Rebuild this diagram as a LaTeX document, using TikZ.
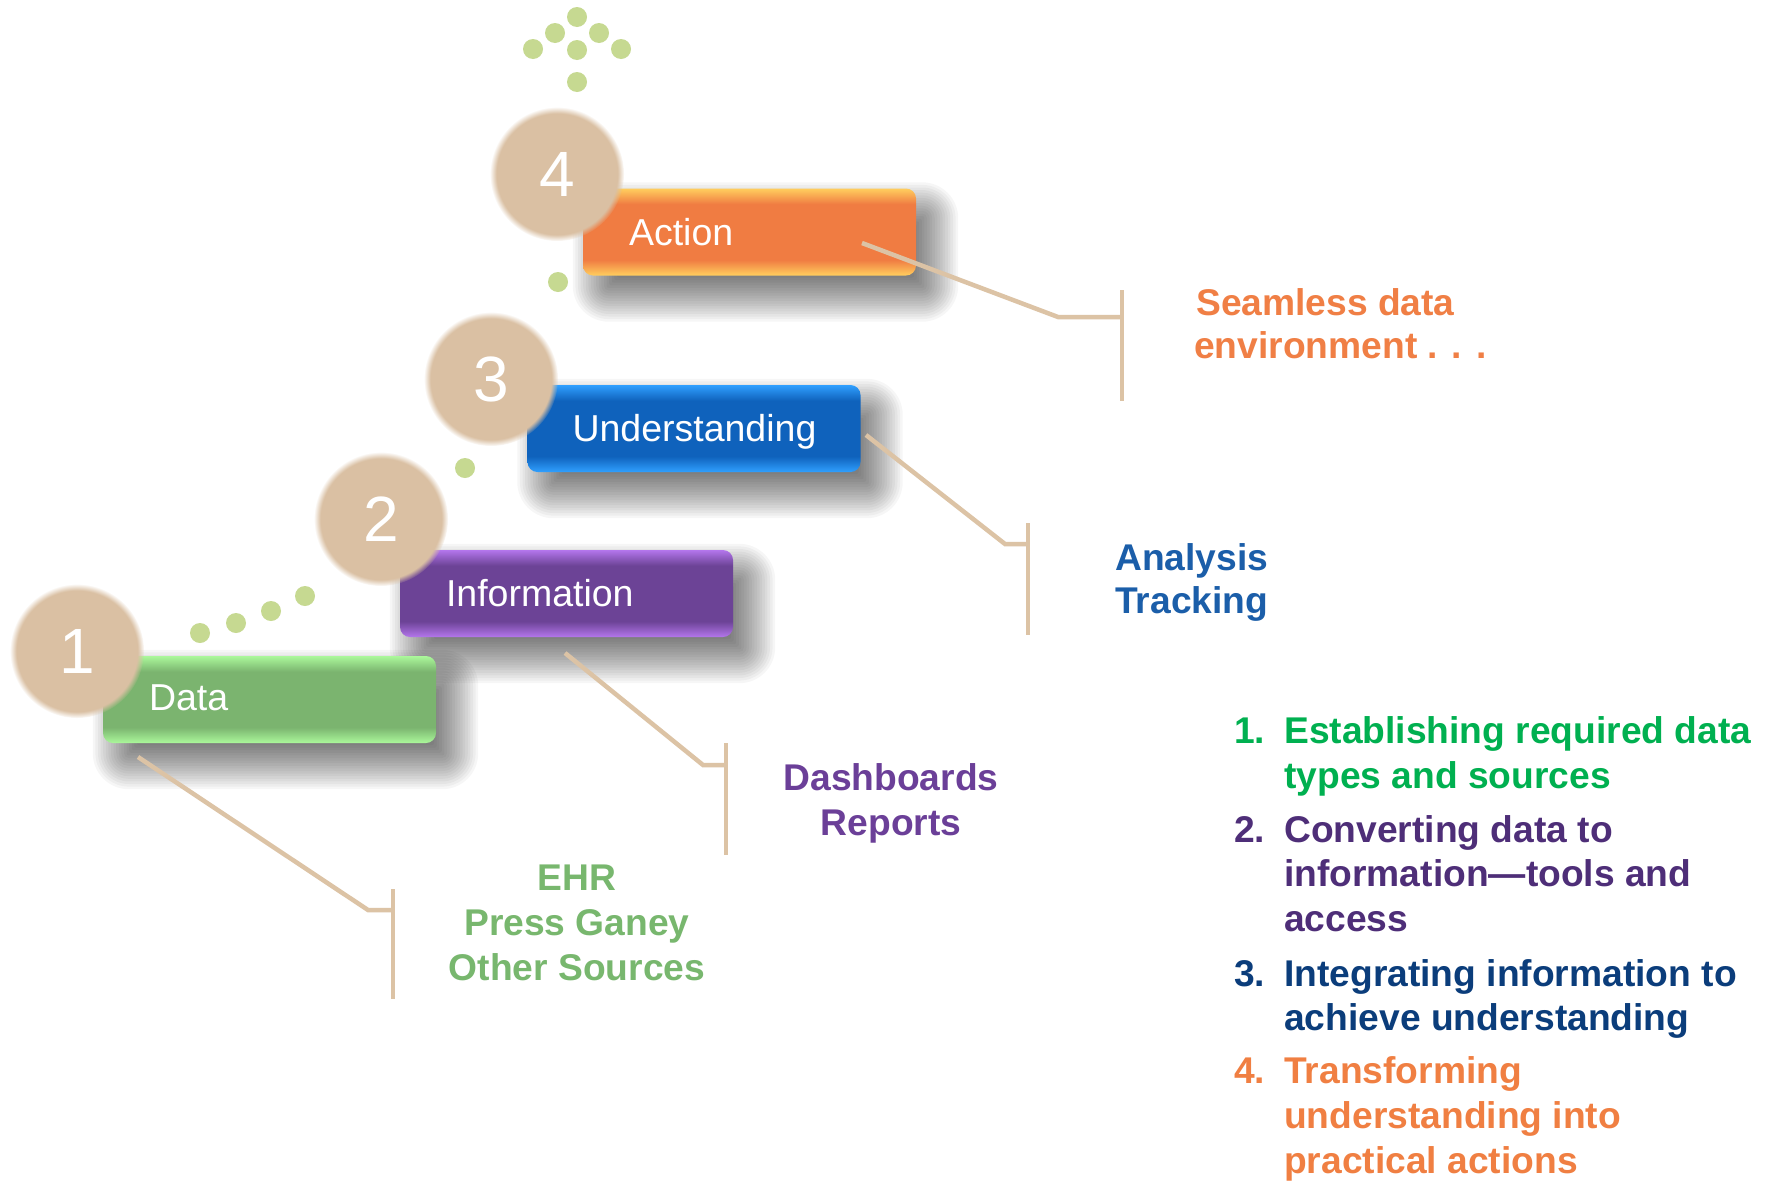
\documentclass[tikz,border=0pt]{standalone}
\usepackage{fontspec}
\setmainfont{Liberation Sans}
\usetikzlibrary{fadings,calc}

% palette
\definecolor{circtan}{HTML}{DAC0A3}
\definecolor{dotgreen}{HTML}{C6D991}
\definecolor{linktan}{HTML}{DCC3A5}
\definecolor{dataBase}{HTML}{7BB46F}
\definecolor{dataLight}{HTML}{ABF89B}
\definecolor{infoBase}{HTML}{6C4396}
\definecolor{infoLight}{HTML}{B476EC}
\definecolor{undBase}{HTML}{0F62BC}
\definecolor{undLight}{HTML}{30A0FF}
\definecolor{actBase}{HTML}{F07C42}
\definecolor{actLight}{HTML}{FFCE5E}
\definecolor{seamOrange}{HTML}{F07F45}
\definecolor{anaBlue}{HTML}{1B5EA9}
\definecolor{dashPurple}{HTML}{6B3F98}
\definecolor{ehrGreen}{HTML}{78B76E}
\definecolor{itemGreen}{HTML}{00B050}
\definecolor{itemPurple}{HTML}{4E2E78}
\definecolor{itemBlue}{HTML}{0B3D7B}
\definecolor{itemOrange}{HTML}{F07F42}

% glossy bars: light rim at top and bottom, flat colour in between
\pgfdeclareverticalshading{dataBar}{100bp}{color(0bp)=(dataLight); color(25bp)=(dataLight); color(34bp)=(dataBase); color(66bp)=(dataBase); color(75bp)=(dataLight); color(100bp)=(dataLight)}
\pgfdeclareverticalshading{infoBar}{100bp}{color(0bp)=(infoLight); color(25bp)=(infoLight); color(34bp)=(infoBase); color(66bp)=(infoBase); color(75bp)=(infoLight); color(100bp)=(infoLight)}
\pgfdeclareverticalshading{undBar}{100bp}{color(0bp)=(undLight); color(25bp)=(undLight); color(34bp)=(undBase); color(66bp)=(undBase); color(75bp)=(undLight); color(100bp)=(undLight)}
\pgfdeclareverticalshading{actBar}{100bp}{color(0bp)=(actLight); color(25bp)=(actLight); color(34bp)=(actBase); color(66bp)=(actBase); color(75bp)=(actLight); color(100bp)=(actLight)}

\tikzset{
  bar/.style={rectangle, rounded corners=10pt, minimum width=333pt, minimum height=87pt,
    inner sep=0pt},
  barlabel/.style={anchor=base west, inner sep=0pt, text=white,
    font=\fontsize{37.5}{43}\selectfont},
  numcirc/.style={circle, minimum size=134pt, inner sep=0pt, fill=circtan,
    path fading=circle with fuzzy edge 10 percent, text=white,
    font=\fontsize{64}{64}\selectfont},
  dot/.style={fill=dotgreen},
  link/.style={draw=linktan, line width=4.5pt, line join=miter},
  lbl/.style={inner sep=0pt, font=\fontsize{37.2}{43}\selectfont\bfseries},
}

% soft drop shadow under a bar: stacked translucent rounded rectangles
\newcommand\barshadow[1]{%
  \foreach \k in {0,...,19}{
    \pgfmathsetmacro\e{26-2.6*\k}
    \pgfmathsetmacro\rc{max(\e+10,2)}
    \fill[black, opacity=0.035, rounded corners=\rc pt]
      ($(#1.south west)+(16-\e,20+\e)$) rectangle ($(#1.north east)+(16+\e,20-\e)$);
  }}

\begin{document}
\begin{tikzpicture}[x=1pt,y=-1pt]
\useasboundingbox (0,0) rectangle (1771,1181);
\fill[white] (0,0) rectangle (1771,1181);

% bar outlines fixed first so the shadows can sit beneath all of them
\path (269.5,699.5) node[bar] (data) {}
      (566.5,593.5) node[bar] (info) {}
      (694,428.5)   node[bar] (und)  {}
      (749.5,232)   node[bar] (act)  {};
\barshadow{data}
\barshadow{info}
\barshadow{und}
\barshadow{act}

% the four steps
\node[bar, shading=dataBar] at (data) {};
\node[numcirc] (n1) at (77,651) {1};
\node[barlabel] (dataT) at ($(data.north west)+(46,55)$) {Data};

\node[bar, shading=infoBar] at (info) {};
\node[numcirc] (n2) at (381,519) {2};
\node[barlabel] (infoT) at ($(info.north west)+(46,57)$) {Information};

\node[bar, shading=undBar] at (und) {};
\node[numcirc] (n3) at (491,379) {3};
\node[barlabel] (undT) at ($(und.north west)+(45,57)$) {Understanding};

\node[bar, shading=actBar] at (act) {};
\node[numcirc] (n4) at (557,174) {4};
\node[barlabel] (actT) at ($(act.north west)+(46,57)$) {Action};

% dotted trail between the steps
\foreach \p in {(200,633),(236,623),(271,611),(305,596),(465,468),(558,282)}
  \fill[dot] \p circle (10);
% arrow of dots above the top step
\foreach \p in {(577,17),(555,33),(599,33),(533,49),(577,50),(621,49),(577,82)}
  \fill[dot] \p circle (10);

% callout brackets
\coordinate (actElbow) at (1058,317);
\coordinate (actTop) at (1122,290);
\coordinate (actBot) at (1122,401);
\draw[link] ($(act.center)+(112.5,11)$) -- (actElbow) -- (actElbow -| actTop);
\draw[link] (actTop) -- (actBot);

\coordinate (undElbow) at (1005,544);
\coordinate (undTop) at (1028,523);
\coordinate (undBot) at (1028,635);
\draw[link] ($(und.center)+(172,6.5)$) -- (undElbow) -- (undElbow -| undTop);
\draw[link] (undTop) -- (undBot);

\coordinate (infoElbow) at (703,765);
\coordinate (infoTop) at (726,743);
\coordinate (infoBot) at (726,855);
\draw[link] ($(info.center)+(-1.5,59.5)$) -- (infoElbow) -- (infoElbow -| infoTop);
\draw[link] (infoTop) -- (infoBot);

\coordinate (dataElbow) at (368,910);
\coordinate (dataTop) at (393,889);
\coordinate (dataBot) at (393,999);
\draw[link] ($(data.center)+(-131.5,57.5)$) -- (dataElbow) -- (dataElbow -| dataTop);
\draw[link] (dataTop) -- (dataBot);

% callout texts
\node[lbl, text=seamOrange, anchor=base west] (seam1) at (1196,315) {Seamless data};
\node[lbl, text=seamOrange, anchor=base west] (seam2) at (1194,358) {environment . . .};

\node[lbl, text=anaBlue, anchor=base west] (ana1) at (1115,570) {Analysis};
\node[lbl, text=anaBlue, anchor=base west] (ana2) at (1115,613) {Tracking};

\node[lbl, text=dashPurple, anchor=base] (dash1) at (891,790) {Dashboards};
\node[lbl, text=dashPurple, anchor=base] (dash2) at (891,835) {Reports};

\node[lbl, text=ehrGreen, anchor=base] (ehr1) at (577,890) {EHR};
\node[lbl, text=ehrGreen, anchor=base] (ehr2) at (577,935) {Press Ganey};
\node[lbl, text=ehrGreen, anchor=base] (ehr3) at (577,980) {Other Sources};

% numbered summary
\node[lbl, text=itemGreen, anchor=base west] (i1n) at (1234,743) {1.};
\node[lbl, text=itemGreen, anchor=base west] (i1a) at (1284,743) {Establishing required data};
\node[lbl, text=itemGreen, anchor=base west] (i1b) at (1284,788) {types and sources};

\node[lbl, text=itemPurple, anchor=base west] (i2n) at (1234,842) {2.};
\node[lbl, text=itemPurple, anchor=base west] (i2a) at (1284,842) {Converting data to};
\node[lbl, text=itemPurple, anchor=base west] (i2b) at (1284,886) {information—tools and};
\node[lbl, text=itemPurple, anchor=base west] (i2c) at (1284,931) {access};

\node[lbl, text=itemBlue, anchor=base west] (i3n) at (1234,986) {3.};
\node[lbl, text=itemBlue, anchor=base west] (i3a) at (1284,986) {Integrating information to};
\node[lbl, text=itemBlue, anchor=base west] (i3b) at (1284,1030) {achieve understanding};

\node[lbl, text=itemOrange, anchor=base west] (i4n) at (1234,1083) {4.};
\node[lbl, text=itemOrange, anchor=base west] (i4a) at (1284,1083) {Transforming};
\node[lbl, text=itemOrange, anchor=base west] (i4b) at (1284,1128) {understanding into};
\node[lbl, text=itemOrange, anchor=base west] (i4c) at (1284,1173) {practical actions};
\end{tikzpicture}
\end{document}
